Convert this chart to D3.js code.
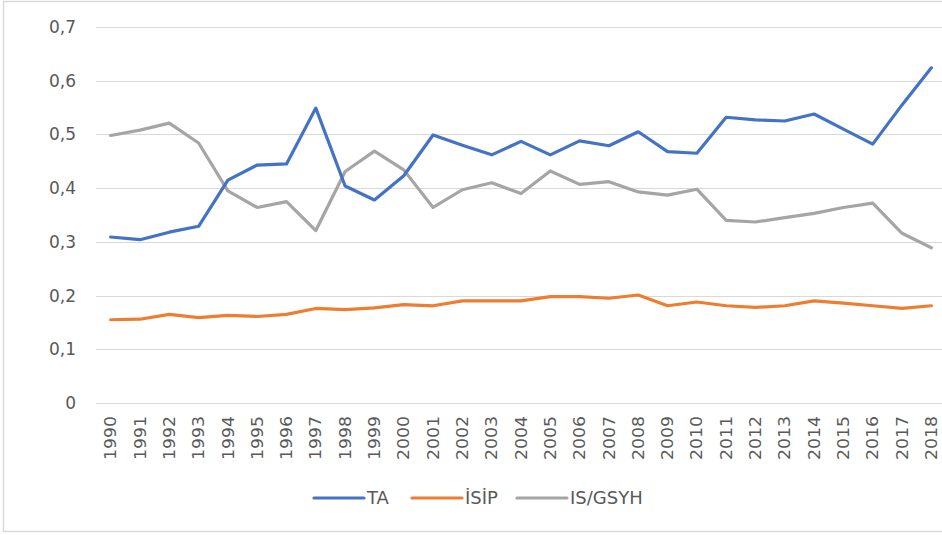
<!DOCTYPE html>
<html>
<head>
<meta charset="utf-8">
<script src="https://cdn.jsdelivr.net/npm/d3@7"></script>
<style>
  body { margin: 0; background: #fff; }
  svg { display: block; }
  text { font-family: "DejaVu Sans", sans-serif; fill: #595959; }
</style>
</head>
<body>
<div id="chart"></div>
<script>
// data
var years = [1990,1991,1992,1993,1994,1995,1996,1997,1998,1999,2000,2001,2002,2003,2004,
             2005,2006,2007,2008,2009,2010,2011,2012,2013,2014,2015,2016,2017,2018];
var ta = [0.309,0.304,0.318,0.329,0.415,0.443,0.445,0.549,0.404,0.378,0.423,0.499,0.480,0.462,0.487,
          0.462,0.488,0.479,0.505,0.468,0.465,0.532,0.527,0.525,0.538,0.510,0.482,0.555,0.624];
var isip = [0.155,0.156,0.165,0.159,0.163,0.161,0.165,0.176,0.174,0.177,0.183,0.181,0.190,0.190,0.190,
            0.198,0.198,0.195,0.201,0.181,0.188,0.181,0.178,0.181,0.190,0.186,0.181,0.176,0.181];
var isGsyh = [0.498,0.508,0.521,0.484,0.395,0.364,0.375,0.321,0.431,0.469,0.434,0.364,0.397,0.410,0.390,
              0.432,0.407,0.412,0.393,0.387,0.398,0.340,0.337,0.345,0.353,0.364,0.372,0.316,0.289];
var yTicks = [0,0.1,0.2,0.3,0.4,0.5,0.6,0.7];
var seriesNames = ["TA","İSİP","IS/GSYH"];
var seriesColors = ["#4472C4","#ED7D31","#A5A5A5"];

var width = 942, height = 535;
var plotLeft = 96, plotRight = 946, plotTop = 27, plotBottom = 403;

var svg = d3.select("#chart").append("svg")
    .attr("width", width)
    .attr("height", height);

// chart frame
svg.append("rect")
    .attr("x", 3.5).attr("y", 1.5)
    .attr("width", 950).attr("height", 530)
    .attr("fill", "none")
    .attr("stroke", "#d9d9d9")
    .attr("stroke-width", 1.5);

var x = d3.scaleBand().domain(years).range([plotLeft, plotRight]);
var y = d3.scaleLinear().domain([0, 0.7]).range([plotBottom, plotTop]);

// gridlines
svg.append("g").selectAll("line")
    .data(yTicks)
    .enter().append("line")
    .attr("x1", plotLeft).attr("x2", plotRight)
    .attr("y1", function(d){ return Math.round(y(d)) + 0.5; })
    .attr("y2", function(d){ return Math.round(y(d)) + 0.5; })
    .attr("stroke", "#d9d9d9")
    .attr("stroke-width", 1);

// y axis labels
var fmt = function(d){ return d === 0 ? "0" : d3.format(".1f")(d).replace(".", ","); };
var yAxis = d3.axisLeft(y).tickValues(yTicks).tickFormat(fmt).tickSize(0).tickPadding(20);
var gy = svg.append("g").attr("transform", "translate(" + plotLeft + ",0)").call(yAxis);
gy.select(".domain").remove();
gy.selectAll("text")
    .style("font-family", "DejaVu Sans, sans-serif")
    .style("font-size", "17px")
    .attr("fill", "#595959");

// x axis labels (rotated)
var xAxis = d3.axisBottom(x).tickSize(0).tickPadding(0);
var gx = svg.append("g").attr("transform", "translate(0," + plotBottom + ")").call(xAxis);
gx.select(".domain").remove();
gx.selectAll("text")
    .style("font-family", "DejaVu Sans, sans-serif")
    .style("font-size", "16px")
    .attr("fill", "#595959")
    .attr("transform", "rotate(-90)")
    .attr("x", -13)
    .attr("y", 0)
    .attr("dy", "0.35em")
    .attr("textLength", 44)
    .attr("lengthAdjust", "spacingAndGlyphs")
    .style("text-anchor", "end");

// lines
var allSeries = [ta, isip, isGsyh];
var line = d3.line()
    .x(function(d, i){ return x(years[i]) + x.bandwidth() / 2; })
    .y(function(d){ return y(d); });

svg.append("g").selectAll("path")
    .data([isGsyh, isip, ta])
    .enter().append("path")
    .attr("d", line)
    .attr("fill", "none")
    .attr("stroke", function(d){ return seriesColors[allSeries.indexOf(d)]; })
    .attr("stroke-width", 3.2)
    .attr("stroke-linejoin", "round")
    .attr("stroke-linecap", "round");

// legend
var legendX = [314, 412, 517];
var lg = svg.append("g").selectAll("g")
    .data(seriesNames)
    .enter().append("g")
    .attr("transform", function(d, i){ return "translate(" + legendX[i] + ",498)"; });
lg.append("line")
    .attr("x1", 0).attr("x2", 50)
    .attr("stroke", function(d, i){ return seriesColors[i]; })
    .attr("stroke-width", 3.2)
    .attr("stroke-linecap", "round");
lg.append("text")
    .attr("x", 53)
    .attr("dy", "0.36em")
    .style("font-size", "18px")
    .text(function(d){ return d; });
</script>
</body>
</html>
